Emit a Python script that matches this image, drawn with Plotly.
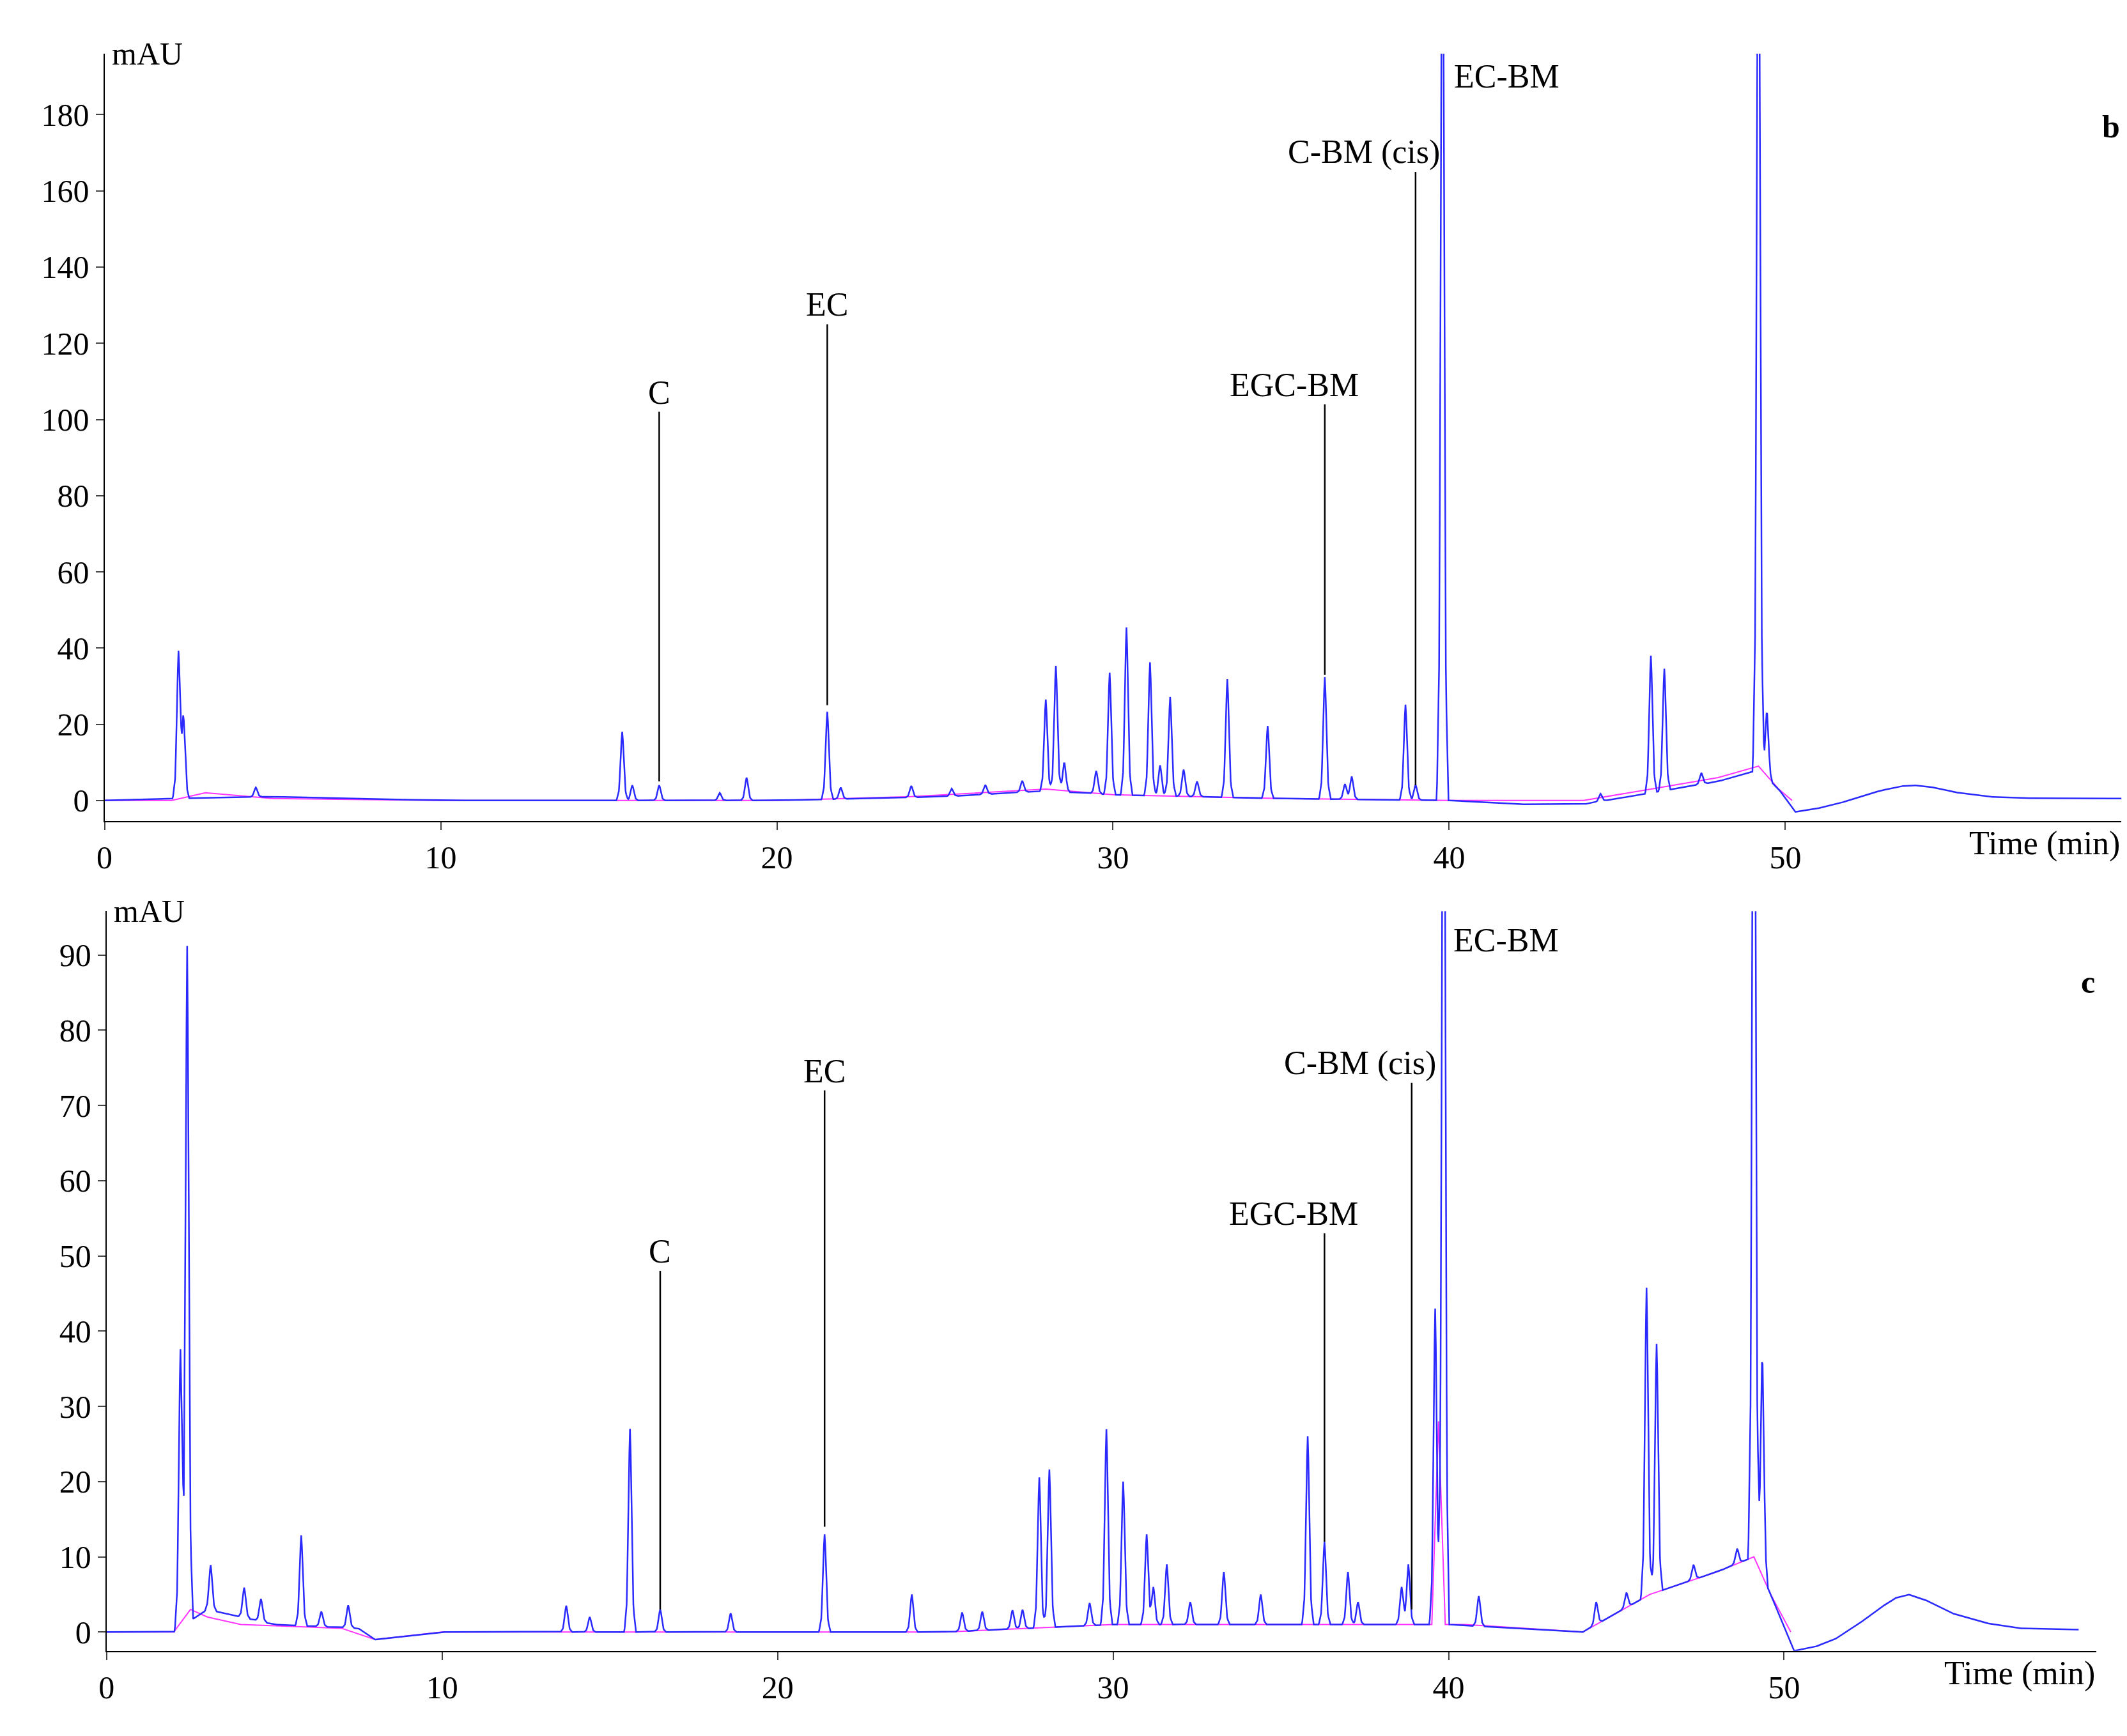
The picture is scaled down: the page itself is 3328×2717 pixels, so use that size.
import numpy as np
import plotly.graph_objects as go

# ---- data ----
# panel b
b_base_t = [0, 2, 5, 10, 15, 20, 25, 28, 30, 35, 40, 42, 44, 46, 48, 49.2, 49.8, 50.3, 50.9, 51.5, 52.2, 52.8, 53.4, 53.8, 54.3, 55, 56, 57, 60]
b_base_v = [0, 0.5, 1, 0, 0, 0, 1, 2.5, 1.5, 0.5, 0, -1, -1, 2, 5, 8, 3, -3, -2.2, -1, 0.8, 2.5, 3.7, 4, 3.6, 2.2, 1, 0.6, 0.5]
b_peak_t = [2.2, 2.35, 4.5, 15.4, 15.7, 16.5, 18.3, 19.1, 21.5, 21.9, 24.0, 25.2, 26.2, 27.3, 28.0, 28.3, 28.55, 29.5,
            29.9, 30.4, 31.1, 31.4, 31.7, 32.1, 32.5, 33.4, 34.6, 36.3, 36.9, 37.1, 38.7, 39.0, 39.8, 44.5, 46.0, 46.4, 47.5, 49.2, 49.45]
b_peak_h = [38, 21, 2.5, 18, 4, 4, 2, 6, 23, 3, 3, 2, 2.5, 3, 24, 33, 8, 6,
            32, 44, 35, 8, 26, 7, 4, 31, 19, 32, 4, 6, 25, 4, 260, 2, 36, 32, 3, 260, 18]
b_mag_t = [0, 2, 3, 5, 10, 20, 24, 28, 30, 35, 40, 44, 46, 48, 49.2, 49.8, 50.2]
b_mag_v = [0, 0, 2, 0.5, 0, 0, 1, 3, 1.5, 0.5, 0, 0, 3, 6, 9, 3, 0]

# panel c
c_base_t = [0, 2, 3, 5, 7.5, 8, 10, 15, 20, 25, 30, 35, 40, 44, 46, 48, 49.1, 49.6, 50.3, 50.9, 51.5, 52.2, 52.8, 53.3, 53.7, 54.2, 55, 56, 57, 59]
c_base_v = [0, 0, 3, 1, 0.5, -1, 0, 0, 0, 0, 1, 1, 1, 0, 5, 8, 10, 5, -2.5, -2, -1, 1, 3, 4.5, 5, 4.3, 2.5, 1.2, 0.5, 0.3]
c_peak_t = [2.2, 2.4, 3.1, 4.1, 4.6, 5.8, 6.4, 7.2, 13.7, 14.4, 15.6, 16.5, 18.6, 21.4, 24.0, 25.5, 26.1, 27.0, 27.3, 27.8, 28.1,
            29.3, 29.8, 30.3, 31.0, 31.2, 31.6, 32.3, 33.3, 34.4, 35.8, 36.3, 37.0, 37.3, 38.6, 38.8, 39.6, 39.85,
            40.9, 44.4, 45.3, 45.9, 46.2, 47.3, 48.6, 49.1, 49.35]
c_peak_h = [37, 90, 6, 4, 3, 12, 2, 3, 3.5, 2, 27, 3, 2.5, 13, 5, 2.5, 2.5, 2.5, 2.5, 20, 21,
            3, 26, 19, 12, 5, 8, 3, 7, 4, 25, 11, 7, 3, 5, 8, 42, 150,
            4, 3, 2, 41, 33, 2, 2, 150, 30]
c_mag_t = [0, 2, 2.5, 3, 4, 7, 8, 10, 20, 25, 30, 35, 39.5, 39.7, 39.9, 40.5, 44, 46, 48, 49.1, 49.6, 50.2]
c_mag_v = [0, 0, 3, 2, 1, 0.5, -1, 0, 0, 0, 1, 1, 1, 28, 1, 1, 0, 5, 8, 10, 5, 0]

b_labels = [("C", 16.5, 102, 5), ("EC", 21.5, 125, 25), ("EGC-BM", 36.3, 104, 33), ("C-BM (cis)", 39.0, 165, 4)]
c_labels = [("C", 16.5, 48, 3), ("EC", 21.4, 72, 14), ("EGC-BM", 36.3, 53, 12), ("C-BM (cis)", 38.9, 73, 3)]

PROFILE = [(-1.0, 0.0), (-0.6, 0.12), (-0.35, 0.45), (-0.15, 0.85), (0, 1), (0.15, 0.85), (0.35, 0.45), (0.6, 0.12), (1.0, 0.0)]


def build(bt, bv, pt, ph, w=0.17):
    grid = np.union1d(np.array(bt, float), np.arange(0, 60.001, 0.02))
    y = np.interp(grid, bt, bv)
    px = [d for d, _ in PROFILE]
    pf = [f for _, f in PROFILE]
    for t, h in zip(pt, ph):
        y = y + h * np.interp((grid - t) / w, px, pf, left=0, right=0)
    return grid, y


fig = go.Figure()
bx, by = build(b_base_t, b_base_v, b_peak_t, b_peak_h)
cx, cy = build(c_base_t, c_base_v, c_peak_t, c_peak_h)
cm = cx <= 58.8
fig.add_trace(go.Scatter(x=b_mag_t, y=b_mag_v, mode="lines", line=dict(color="#ff33ff", width=2), xaxis="x", yaxis="y"))
fig.add_trace(go.Scatter(x=bx, y=by, mode="lines", line=dict(color="#2a2aff", width=2.5), xaxis="x", yaxis="y"))
fig.add_trace(go.Scatter(x=c_mag_t, y=c_mag_v, mode="lines", line=dict(color="#ff33ff", width=2), xaxis="x2", yaxis="y2"))
fig.add_trace(go.Scatter(x=cx[cm], y=cy[cm], mode="lines", line=dict(color="#2a2aff", width=2.5), xaxis="x2", yaxis="y2"))

F = "Liberation Serif"
ax = dict(showline=True, linecolor="black", linewidth=2, ticks="outside", ticklen=12, tickwidth=2,
          showgrid=False, zeroline=False, tickfont=dict(family=F, size=50, color="black"))
fig.update_layout(
    width=3328, height=2717, showlegend=False, plot_bgcolor="white", paper_bgcolor="white",
    margin=dict(l=0, r=0, t=0, b=0),
    xaxis=dict(ax, domain=[0.043, 0.995], range=[0, 60], tickvals=[0, 10, 20, 30, 40, 50], anchor="y"),
    yaxis=dict(ax, domain=[0.530, 0.972], range=[-5.4, 196], tickvals=list(range(0, 181, 20)), anchor="x"),
    xaxis2=dict(ax, domain=[0.044, 0.983], range=[0, 59.3], tickvals=[0, 10, 20, 30, 40, 50], anchor="y2"),
    yaxis2=dict(ax, domain=[0.052, 0.478], range=[-2.5, 95.8], tickvals=list(range(0, 91, 10)), anchor="x2"),
)

ann = []
shapes = []
for xr, yr, labs, top, ec_y, letter in [("x", "y", b_labels, 196, 190, "b"), ("x2", "y2", c_labels, 95.8, 92, "c")]:
    for name, t, y1, y0 in labs:
        shapes.append(dict(type="line", xref=xr, yref=yr, x0=t, x1=t, y0=y0, y1=y1, line=dict(color="black", width=2.5)))
        ann.append(dict(text=name, xref=xr, yref=yr, x=t, y=y1, yanchor="bottom", xanchor="right" if "cis" in name or "EGC" in name else "center",
                        xshift=(40 if "cis" in name else (55 if "EGC" in name else 0)),
                        showarrow=False, font=dict(family=F, size=52, color="black")))
    ann.append(dict(text="EC-BM", xref=xr, yref=yr, x=40.1, y=ec_y, xanchor="left", yanchor="middle",
                    showarrow=False, font=dict(family=F, size=52, color="black")))
    ann.append(dict(text="mAU", xref=xr + " domain", yref=yr + " domain", x=0.003, y=1.0, xanchor="left", yanchor="middle",
                    showarrow=False, font=dict(family=F, size=50, color="black")))
    ann.append(dict(text="Time (min)", xref=xr + " domain", yref=yr + " domain", x=1.0, y=0, xanchor="right", yanchor="top",
                    yshift=-4, showarrow=False, font=dict(family=F, size=52, color="black")))
    ann.append(dict(text="<b>%s</b>" % letter, xref=xr + " domain", yref=yr + " domain", x=1.0, y=0.93, xanchor="right",
                    showarrow=False, font=dict(family=F, size=50, color="black")))
fig.update_layout(annotations=ann, shapes=shapes)
fig.write_html("out.html")
